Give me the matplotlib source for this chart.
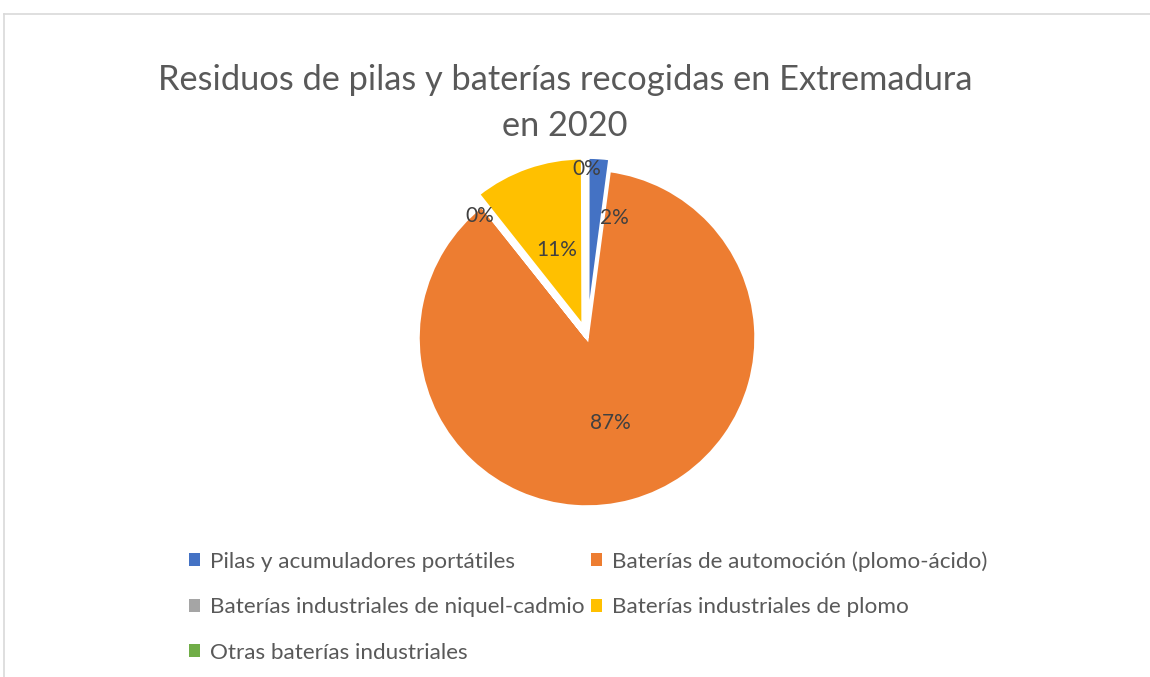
import numpy as np
import matplotlib
matplotlib.use("Agg")
import matplotlib.pyplot as plt
from matplotlib.patches import Patch
from matplotlib.lines import Line2D

plt.rcParams['font.family'] = ['Lato', 'DejaVu Sans']

# datos (porcentaje de residuos recogidos)
categorias = ["Pilas y acumuladores portátiles",
              "Baterías de automoción (plomo-ácido)",
              "Baterías industriales de niquel-cadmio",
              "Baterías industriales de plomo",
              "Otras baterías industriales"]
valores = [2.1, 87.2, 0.05, 10.6, 0.05]
colores = ["#4472C4", "#ED7D31", "#A5A5A5", "#FFC000", "#70AD47"]
separacion = [0.07, 0, 0, 0.07, 0]

# posicion de las etiquetas (fraccion del radio, giro en grados)
dist_etiqueta = [0.66, 0.52, 0.96, 0.48, 1.0]
giro_etiqueta = [-10, 0, 3, 0, 0]

fig = plt.figure(figsize=(11.5, 6.77), dpi=100)

# marco del grafico
fig.add_artist(Line2D([4/1150, 1], [1-14/677, 1-14/677], color="#d9d9d9", lw=1.2))
fig.add_artist(Line2D([4/1150, 4/1150], [0, 1-14/677], color="#d9d9d9", lw=1.2))

ax = fig.add_axes([0.3341, 0.2012, 0.3527, 0.5991])
wedges, _ = ax.pie(valores, colors=colores, explode=separacion, startangle=90,
                   counterclock=False,
                   wedgeprops=dict(edgecolor="white", linewidth=2.5))
ax.set_xlim(-1.2, 1.2)
ax.set_ylim(-1.2, 1.2)
ax.axis("off")

total = sum(valores)
for w, v, d, g in zip(wedges, valores, dist_etiqueta, giro_etiqueta):
    ang = np.deg2rad((w.theta1 + w.theta2) / 2 + g)
    cx, cy = w.center
    ax.text(cx + d * w.r * np.cos(ang), cy + d * w.r * np.sin(ang),
            "{:.0f}%".format(v / total * 100), ha="center", va="center",
            fontsize=15, color="#404040")

fig.text(565/1150, 1 - 80/677, "Residuos de pilas y baterías recogidas en Extremadura",
         ha="center", va="center", fontsize=24.75, color="#595959")
fig.text(565/1150, 1 - 126/677, "en 2020",
         ha="center", va="center", fontsize=24.75, color="#595959")

# leyenda, ordenada por filas
orden = [0, 2, 4, 1, 3]
handles = [Patch(facecolor=colores[i], edgecolor="none") for i in orden]
labels = [categorias[i] for i in orden]
fig.legend(handles, labels, ncol=2, loc="upper left",
           bbox_to_anchor=(189/1150, 1 - 551/677), frameon=False,
           fontsize=16.2, labelcolor="#595959", handlelength=0.5,
           handleheight=0.5, handletextpad=0.45, columnspacing=0.25,
           labelspacing=1.14, borderpad=0, borderaxespad=0)

fig.savefig("out.png", dpi=100)
